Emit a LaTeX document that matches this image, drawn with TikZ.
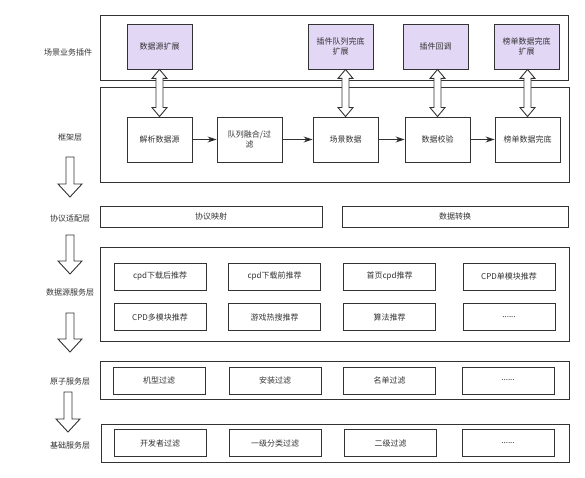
\documentclass[tikz,border=0pt]{standalone}
\usepackage{fontspec}
\setmainfont{Noto Sans CJK SC}
\usepackage{tikz}
\usetikzlibrary{arrows.meta}
\usetikzlibrary{calc}
\usetikzlibrary{positioning}

\definecolor{pluginfill}{HTML}{E3D7F6}
\definecolor{linegray}{HTML}{333333}

% hollow double arrow between a plugin and a framework step
\newcommand{\dblarrow}[2]{
	\draw[hollow] (#2.north |- #1.south) coordinate (t) -- ++(7.5,9) -- ++(-4,0)
		-- ($(#2.north)+(3.5,-9)$) -- ++(4,0) -- (#2.north) -- ++(-7.5,-9) -- ++(4,0)
		-- ($(t)+(-3.5,9)$) -- ++(-4,0) -- cycle;
}
% hollow down arrow between two layers
\newcommand{\layerarrow}[2]{
	\draw[hollow] ($(#1)+(-4,0)$) -- ($(#2)+(-4,-13)$) -- ++(-8,0) -- (#2)
		-- ++(12,-13) -- ++(-8,0) -- ($(#1)+(4,0)$) -- cycle;
}

\begin{document}
\begin{tikzpicture}[
		x=1pt, y=1pt,
		yscale=-1,
		>={Stealth[length=9pt,width=6pt]},
		every node/.style={font=\fontsize{8}{10}\selectfont, text=linegray},
		layer/.style={draw=linegray, line width=1pt},
		hollow/.style={draw=linegray, line width=0.9pt, fill=white, line join=miter},
		box/.style={draw=linegray, line width=0.9pt, align=center, inner sep=1pt,
			minimum width=65pt, minimum height=45pt},
		plugin/.style={box, fill=pluginfill},
		cell/.style={draw=linegray, line width=0.9pt, inner sep=1pt,
			minimum width=92pt, minimum height=27pt},
	]
		\useasboundingbox (0,0) rectangle (585,478);

		% layers
		\draw[layer] (100,16) rectangle (568,81);
		\draw[layer] (100,88) rectangle (569,183);
		\draw[layer] (100,247) rectangle (569,341);
		\draw[layer] (100,361) rectangle (569,399);
		\draw[layer] (101,424) rectangle (569,462);

		% layer names
		\node (lplug) at (68, 52) {场景业务插件};
		\node (lframe) at (70, 137) {框架层};
		\node (lproto) at (70, 218) {协议适配层};
		\node (lsrc) at (70, 292) {数据源服务层};
		\node (latom) at (70, 381) {原子服务层};
		\node (lbase) at (70, 445) {基础服务层};

		% plugins
		\node[plugin] (p1) at (159.5, 46.5) {数据源扩展};
		\node[plugin] (p2) at (340.5, 46.5) {插件队列完底\\扩展};
		\node[plugin] (p3) at (435.5, 46.5) {插件回调};
		\node[plugin] (p4) at (526.5, 46.5) {榜单数据完底\\扩展};

		% framework
		\node[box] (f1) at (159.5, 139.5) {解析数据源};
		\node[box] (f2) at (249.5, 139.5) {队列融合/过\\滤};
		\node[box] (f3) at (345.5, 139.5) {场景数据};
		\node[box] (f4) at (437.5, 139.5) {数据校验};
		\node[box] (f5) at (527.5, 139.5) {榜单数据完底};

		\path [->, draw=linegray, line width=0.9pt] (f1) edge (f2);
		\path [->, draw=linegray, line width=0.9pt] (f2) edge (f3);
		\path [->, draw=linegray, line width=0.9pt] (f3) edge (f4);
		\path [->, draw=linegray, line width=0.9pt] (f4) edge (f5);

		\dblarrow{p1}{f1}
		\dblarrow{p2}{f3}
		\dblarrow{p3}{f4}
		\dblarrow{p4}{f5}

		% protocol adaptation
		\node[cell, minimum width=222pt, minimum height=21pt] (map) at (211, 216.5) {协议映射};
		\node[cell, minimum width=226pt, minimum height=21pt] (conv) at (455, 216.5) {数据转换};

		% data sources
		\node[cell] (s1) at (160, 276.5) {cpd下载后推荐};
		\node[cell] (s2) at (274.5, 276.5) {cpd下载前推荐};
		\node[cell] (s3) at (389.5, 276.5) {首页cpd推荐};
		\node[cell] (s4) at (509, 276.5) {CPD单模块推荐};
		\node[cell] (s5) at (160, 317) {CPD多模块推荐};
		\node[cell] (s6) at (274.5, 317) {游戏热搜推荐};
		\node[cell] (s7) at (389.5, 317) {算法推荐};
		\node[cell] (s8) at (509, 317) {......};

		% atomic services
		\node[cell] (a1) at (159, 380.5) {机型过滤};
		\node[cell] (a2) at (275, 380.5) {安装过滤};
		\node[cell] (a3) at (389.5, 380.5) {名单过滤};
		\node[cell] (a4) at (508, 380.5) {......};

		% base services
		\node[cell] (b1) at (160, 443) {开发者过滤};
		\node[cell] (b2) at (275, 443) {一级分类过滤};
		\node[cell] (b3) at (390.5, 443) {二级过滤};
		\node[cell] (b4) at (508, 443) {......};

		% flow between layers
		\coordinate (d1a) at (70, 157);
		\coordinate (d1b) at (70, 197);
		\coordinate (d2a) at (70, 235);
		\coordinate (d2b) at (70, 274);
		\coordinate (d3a) at (70, 313);
		\coordinate (d3b) at (70, 352);
		\coordinate (d4a) at (68, 392);
		\coordinate (d4b) at (68, 432);
		\layerarrow{d1a}{d1b}
		\layerarrow{d2a}{d2b}
		\layerarrow{d3a}{d3b}
		\layerarrow{d4a}{d4b}
	\end{tikzpicture}
\end{document}
